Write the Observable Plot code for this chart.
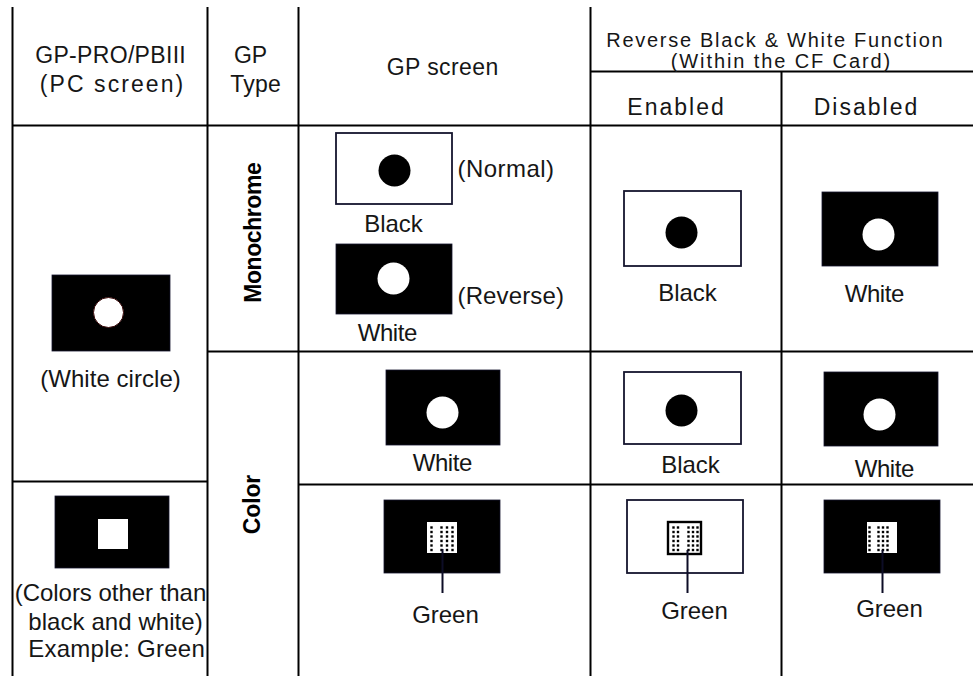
<!DOCTYPE html>
<html>
<head>
<meta charset="utf-8">
<script src="https://cdn.jsdelivr.net/npm/d3@7"></script>
<script src="https://cdn.jsdelivr.net/npm/@observablehq/plot@0.6"></script>
<style>
  html, body { margin: 0; padding: 0; background: #fff; }
  svg { display: block; }
</style>
</head>
<body>
<div id="chart"></div>
<script>
// ---- table structure (grid lines) ----
const vLines = [
  {x: 12,  y1: 7,  y2: 676},
  {x: 207, y1: 7,  y2: 676},
  {x: 298, y1: 7,  y2: 676},
  {x: 590, y1: 7,  y2: 676},
  {x: 781, y1: 71, y2: 676}
];
const hLines = [
  {y: 71,  x1: 590, x2: 973},
  {y: 125, x1: 12,  x2: 973},
  {y: 351, x1: 207, x2: 973},
  {y: 481, x1: 12,  x2: 207},
  {y: 484, x1: 298, x2: 973}
];

// ---- header labels ----
const headerLabels = [
  {text: "GP-PRO/PBIII", x: 110, y: 62},
  {text: "(PC screen)", x: 111, y: 91},
  {text: "GP", x: 250, y: 62},
  {text: "Type", x: 255, y: 91},
  {text: "GP screen", x: 442, y: 74},
  {text: "Enabled", x: 675, y: 114},
  {text: "Disabled", x: 865, y: 114}
];
// two-line title of the right-hand block (smaller type)
const titleLabels = [
  {text: "Reverse Black & White Function", x: 774, y: 46},
  {text: "(Within the CF Card)", x: 780, y: 67}
];

// ---- row labels (rotated) ----
const rowLabels = [
  {text: "Monochrome", x: 253, y: 232},
  {text: "Color", x: 252, y: 504}
];

// ---- body labels (centered) ----
const bodyLabels = [
  {text: "(White circle)", x: 110, y: 386},
  {text: "(Colors other than", x: 110, y: 600},
  {text: "black and white)", x: 115, y: 629},
  {text: "Example: Green", x: 116, y: 656},
  {text: "Black", x: 393, y: 231},
  {text: "White", x: 387, y: 340},
  {text: "Black", x: 687, y: 300},
  {text: "White", x: 874, y: 301},
  {text: "White", x: 442, y: 470},
  {text: "Black", x: 690, y: 472},
  {text: "White", x: 884, y: 476},
  {text: "Green", x: 445, y: 622},
  {text: "Green", x: 694, y: 618},
  {text: "Green", x: 889, y: 616}
];
// ---- side notes (left aligned) ----
const sideLabels = [
  {text: "(Normal)", x: 457, y: 176},
  {text: "(Reverse)", x: 457, y: 303}
];

// ---- screen icons ----
const screens = [
  {x1: 52,  x2: 170, y1: 275, y2: 351, tone: "black"},
  {x1: 55,  x2: 169, y1: 496, y2: 568, tone: "black"},
  {x1: 336, x2: 452, y1: 133, y2: 204, tone: "white"},
  {x1: 336, x2: 452, y1: 244, y2: 314, tone: "black"},
  {x1: 386, x2: 500, y1: 370, y2: 445, tone: "black"},
  {x1: 624, x2: 741, y1: 191, y2: 266, tone: "white"},
  {x1: 822, x2: 938, y1: 192, y2: 266, tone: "black"},
  {x1: 624, x2: 741, y1: 372, y2: 444, tone: "white"},
  {x1: 824, x2: 938, y1: 372, y2: 446, tone: "black"},
  {x1: 384, x2: 500, y1: 500, y2: 573, tone: "black"},
  {x1: 627, x2: 743, y1: 500, y2: 573, tone: "white"},
  {x1: 824, x2: 940, y1: 500, y2: 573, tone: "black"}
];
// circles drawn on the screens
const discs = [
  {x: 394, y: 170, tone: "black"},
  {x: 393, y: 278, tone: "white"},
  {x: 442, y: 412, tone: "white"},
  {x: 681, y: 232, tone: "black"},
  {x: 878, y: 234, tone: "white"},
  {x: 681, y: 410, tone: "black"},
  {x: 879, y: 414, tone: "white"}
];
const pcDisc = [{x: 108, y: 312}];
// white / green squares
const patches = [
  {x1: 98,  x2: 128, y1: 519, y2: 549, framed: false},
  {x1: 427, x2: 457, y1: 522, y2: 553, framed: false},
  {x1: 668, x2: 701, y1: 522, y2: 554, framed: true},
  {x1: 867, x2: 897, y1: 522, y2: 553, framed: false}
];
// dither dot pattern of the green patches
const dotRows = [527, 531.5, 536, 540.5, 545, 549.5];
const dotColsGP = [431, 441, 446.5, 452];
const dotColsEnabled = [673, 677.5, 688, 692.5, 697];
const dotColsDisabled = [869, 878, 882.5, 887];
// leader lines to "Green"
const leaders = [
  {x: 442, y1: 549, y2: 593},
  {x: 687, y1: 550, y2: 593},
  {x: 882, y1: 550, y2: 593}
];

// printed width of each label in the reference (px), used to set letter spacing
const labelWidths = {
  "GP-PRO/PBIII": 149, "(PC screen)": 142, "Type": 49,
  "GP screen": 110, "Reverse Black & White Function": 335,
  "(Within the CF Card)": 218, "Enabled": 95, "Disabled": 102,
  "(Normal)": 95, "(Reverse)": 105, "Black": 57, "White": 58, "Green": 65,
  "(White circle)": 139, "(Colors other than": 190, "black and white)": 173,
  "Example: Green": 175, "Monochrome": 139, "Color": 58
};

const dots = [];
for (const cols of [dotColsGP, dotColsEnabled, dotColsDisabled])
  for (const x of cols) for (const y of dotRows) dots.push({x, y});

const font = "'Liberation Sans', Arial, Helvetica, sans-serif";
const fs = 24;
const ink = "#161616";

const chart = Plot.plot({
  width: 973,
  height: 676,
  margin: 0,
  x: {domain: [0, 973], range: [0, 973], axis: null},
  y: {domain: [0, 676], range: [0, 676], axis: null},
  style: {fontFamily: font, background: "#fff", color: ink, overflow: "visible"},
  marks: [
    Plot.ruleX(vLines, {x: "x", y1: "y1", y2: "y2", stroke: "#000", strokeWidth: 2}),
    Plot.ruleY(hLines, {y: "y", x1: "x1", x2: "x2", stroke: "#000", strokeWidth: 2}),
    Plot.rect(screens, {
      x1: "x1", x2: "x2", y1: "y1", y2: "y2",
      fill: d => d.tone === "black" ? "#000" : "#fff",
      stroke: "#15152e", strokeWidth: d => d.tone === "black" ? 0.8 : 1.8
    }),
    Plot.dot(discs, {x: "x", y: "y", r: 16, fill: d => d.tone === "black" ? "#000" : "#fff", stroke: null}),
    Plot.dot(pcDisc, {x: "x", y: "y", r: 15, fill: "#fff", stroke: "#3a0a0a", strokeWidth: 1}),
    Plot.rect(patches, {
      x1: "x1", x2: "x2", y1: "y1", y2: "y2", fill: "#fff",
      stroke: d => d.framed ? "#000" : "none", strokeWidth: 2.4
    }),
    Plot.dot(dots, {x: "x", y: "y", symbol: "square", r: 1.35, fill: "#000", stroke: null}),
    Plot.ruleX(leaders, {x: "x", y1: "y1", y2: "y2", stroke: "#0d0d26", strokeWidth: 2}),
    Plot.text(headerLabels, {x: "x", y: "y", text: "text", fontSize: 23, lineAnchor: "bottom", textAnchor: "middle", fill: ink}),
    Plot.text(titleLabels, {x: "x", y: "y", text: "text", fontSize: 20, lineAnchor: "bottom", textAnchor: "middle", fill: ink}),
    Plot.text(bodyLabels, {x: "x", y: "y", text: "text", fontSize: fs, lineAnchor: "bottom", textAnchor: "middle", fill: ink}),
    Plot.text(sideLabels, {x: "x", y: "y", text: "text", fontSize: fs, lineAnchor: "bottom", textAnchor: "start", fill: ink}),
    Plot.text(rowLabels, {x: "x", y: "y", text: "text", fontSize: 23, fontWeight: "bold", rotate: -90, lineAnchor: "middle", textAnchor: "middle", fill: "#000"})
  ]
});

document.getElementById("chart").appendChild(chart);

// fit letter spacing so each label spans its printed width
d3.select(chart).selectAll("text").each(function () {
  const t = this.textContent;
  const w = labelWidths[t];
  if (w === undefined || t.length < 2) return;
  this.setAttribute("letter-spacing", "0px");
  const natural = this.getComputedTextLength();
  const s = (w + 1.5 - natural) / (t.length - 1);
  this.setAttribute("letter-spacing", s.toFixed(2) + "px");
  const anchor = getComputedStyle(this).textAnchor || this.getAttribute("text-anchor");
  if (anchor === "middle") this.setAttribute("dx", (s / 2).toFixed(2));
});
</script>
</body>
</html>
